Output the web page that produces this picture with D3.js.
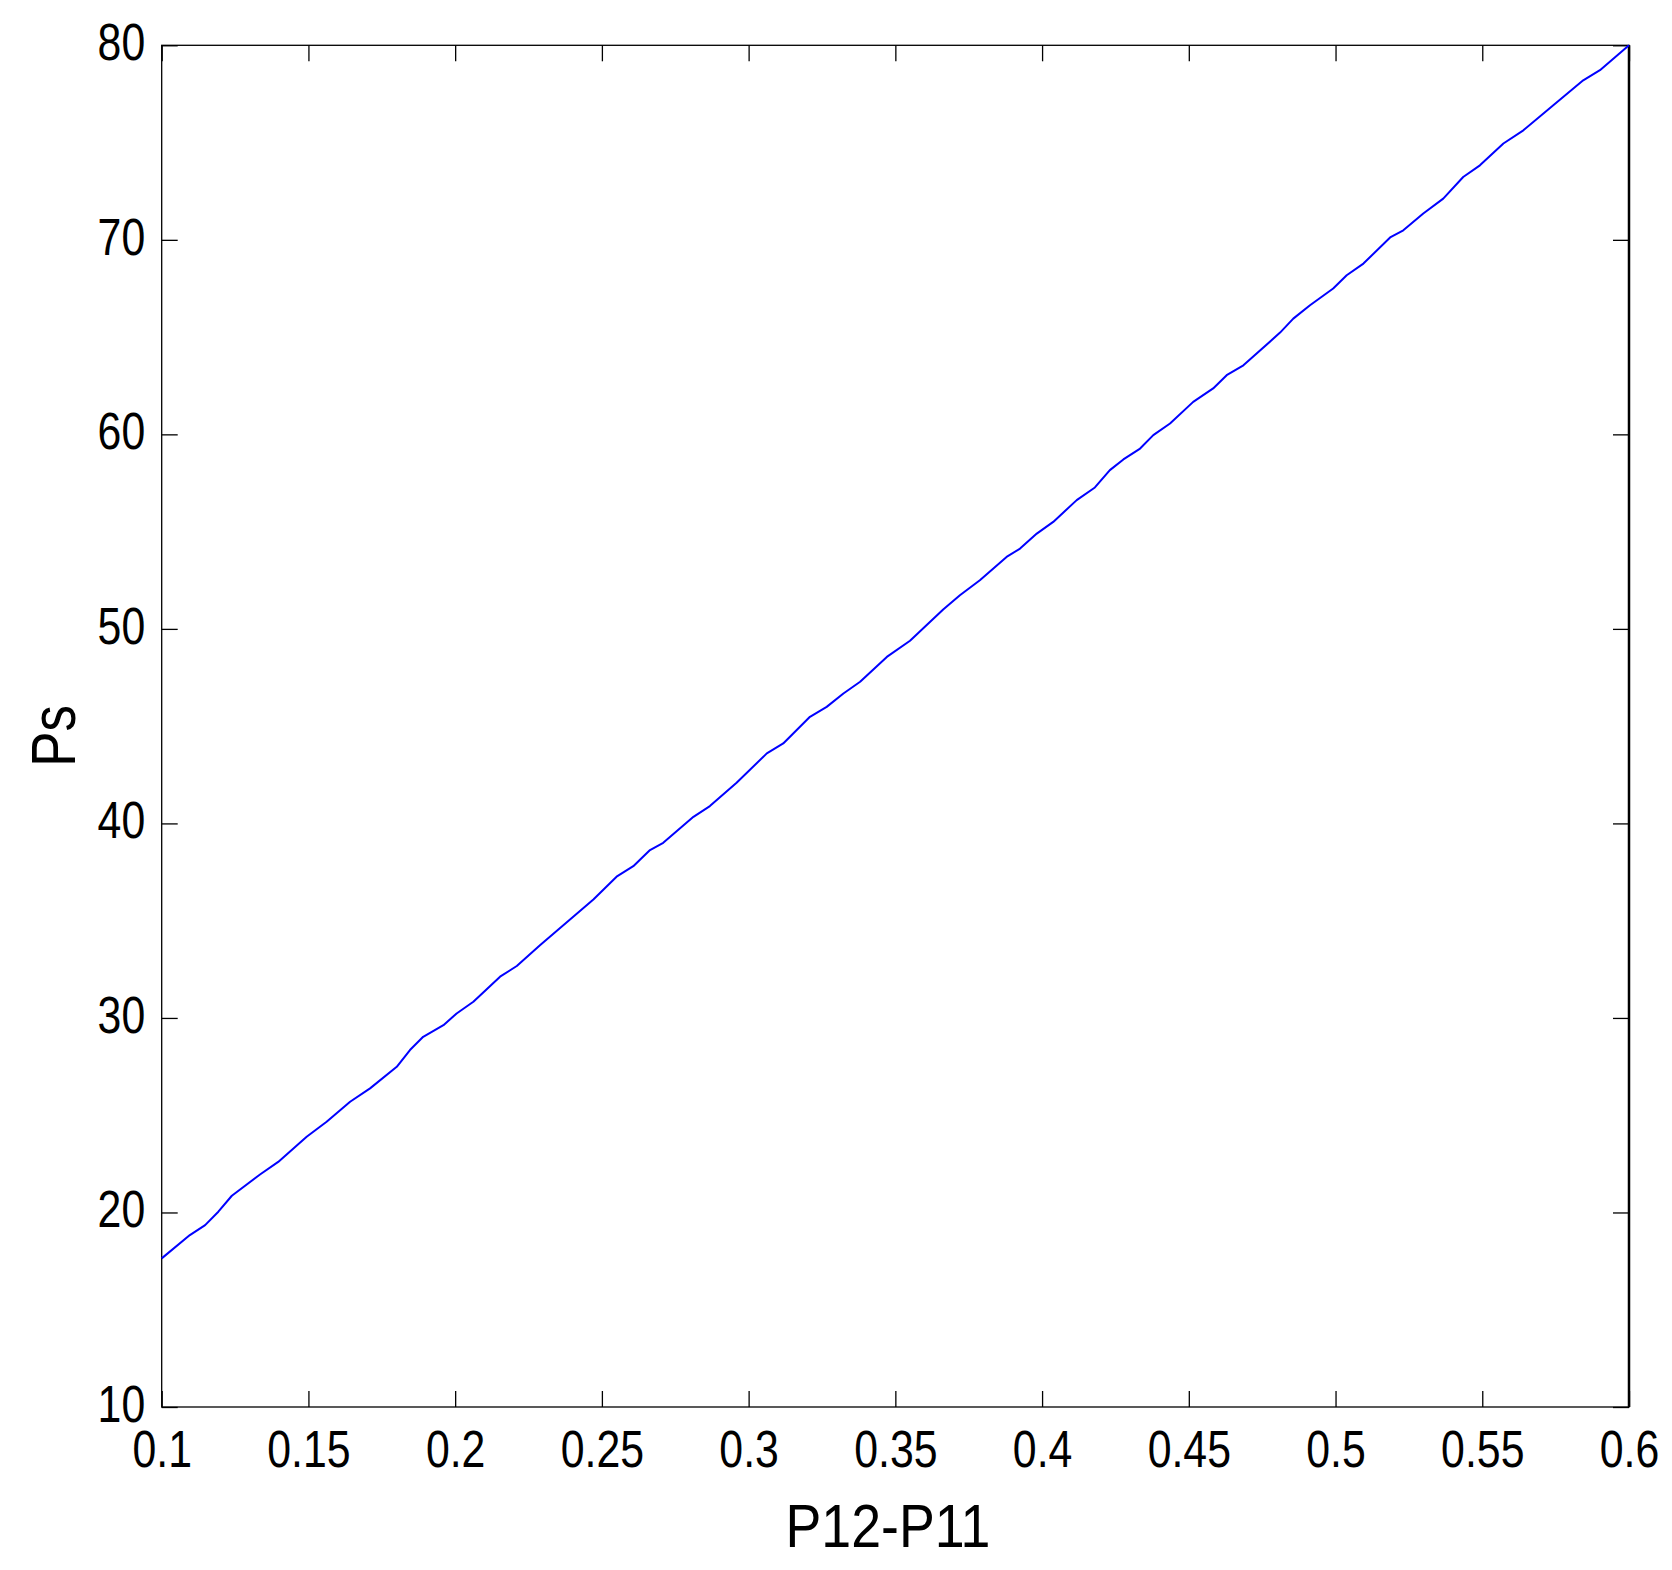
<!DOCTYPE html>
<html>
<head>
<meta charset="utf-8">
<script src="https://cdn.jsdelivr.net/npm/d3@7/dist/d3.min.js"></script>
<style>
  body { margin: 0; background: #fff; }
  svg text { font-family: "Liberation Sans", Arial, sans-serif; fill: #000; }
  .tick line { stroke: #000; stroke-width: 1.3; }
</style>
</head>
<body>
<div class="graph"></div>
<script>
// valeurs
var xVals = [0.1, 0.1096, 0.1148, 0.1193, 0.1239, 0.1335, 0.1397, 0.1494, 0.1562, 0.1642, 0.1710,
  0.1801, 0.1846, 0.1891, 0.1960, 0.2005, 0.2062, 0.2153, 0.2210, 0.2289, 0.2471, 0.2550, 0.2607,
  0.2664, 0.2709, 0.2812, 0.2868, 0.2959, 0.3062, 0.3118, 0.3209, 0.3266, 0.3323, 0.3380, 0.3471,
  0.3550, 0.3663, 0.3720, 0.3788, 0.3879, 0.3925, 0.3982, 0.4038, 0.4118, 0.4180, 0.4231, 0.4277,
  0.4334, 0.4379, 0.4436, 0.4515, 0.4583, 0.4629, 0.4686, 0.4811, 0.4856, 0.4913, 0.4992, 0.5038,
  0.5095, 0.5186, 0.5231, 0.5299, 0.5367, 0.5435, 0.5492, 0.5572, 0.5640, 0.5742, 0.5844, 0.5901, 0.6];
var psVals = [17.64, 18.84, 19.35, 20.04, 20.86, 21.95, 22.6, 23.89, 24.66, 25.69, 26.38,
  27.49, 28.35, 29.03, 29.63, 30.23, 30.83, 32.12, 32.67, 33.74, 36.09, 37.26, 37.80,
  38.63, 39.00, 40.34, 40.89, 42.09, 43.60, 44.11, 45.48, 45.99, 46.68, 47.28, 48.56,
  49.39, 51.00, 51.73, 52.50, 53.70, 54.13, 54.90, 55.50, 56.62, 57.27, 58.16, 58.71,
  59.27, 59.96, 60.56, 61.67, 62.36, 63.04, 63.55, 65.23, 65.95, 66.64, 67.50, 68.18,
  68.78, 70.12, 70.49, 71.35, 72.12, 73.23, 73.83, 74.95, 75.63, 76.92, 78.20, 78.72, 80];
var xTicks = [0.1, 0.15, 0.2, 0.25, 0.3, 0.35, 0.4, 0.45, 0.5, 0.55, 0.6];
var yTicks = [10, 20, 30, 40, 50, 60, 70, 80];
var xLabel = "P12-P11", yLabel = "Ps";

var width = 1672, height = 1570;
var plotLeft = 161.7, plotRight = 1629, plotTop = 45.3, plotBottom = 1407;
var tickLen = 16;
var squeeze = 0.84; // police etroite comme sur l'original

var svg = d3.select(".graph").append("svg")
  .attr("width", width)
  .attr("height", height);

var x = d3.scaleLinear().domain([0.1, 0.6]).range([plotLeft, plotRight]);
var y = d3.scaleLinear().domain([10, 80]).range([plotBottom, plotTop]);

var fmt = function(d){ return String(+d.toFixed(2)); };

// axes en bas et a gauche, graduations vers l'interieur
var gx = svg.append("g")
  .attr("transform", "translate(0," + plotBottom + ")")
  .call(d3.axisBottom(x).tickValues(xTicks).tickSizeInner(-tickLen).tickSizeOuter(0).tickFormat(fmt));
gx.select(".domain").remove();
gx.selectAll("text")
  .attr("y", null).attr("dy", null)
  .attr("text-anchor", "middle")
  .attr("transform", "translate(0,60) scale(" + squeeze + ",1)")
  .attr("font-size", 51);

var gy = svg.append("g")
  .attr("transform", "translate(" + plotLeft + ",0)")
  .call(d3.axisLeft(y).tickValues(yTicks).tickSizeInner(-tickLen).tickSizeOuter(0).tickFormat(fmt));
gy.select(".domain").remove();
gy.selectAll("text")
  .attr("x", null).attr("dy", null).attr("y", null)
  .attr("text-anchor", "end")
  .attr("transform", "translate(-16.5,14.5) scale(" + squeeze + ",1)")
  .attr("font-size", 51);

// graduations miroir en haut et a droite
svg.append("g")
  .attr("transform", "translate(0," + plotTop + ")")
  .call(d3.axisTop(x).tickValues(xTicks).tickSizeInner(-tickLen).tickSizeOuter(0).tickFormat(""))
  .select(".domain").remove();
svg.append("g")
  .attr("transform", "translate(" + plotRight + ",0)")
  .call(d3.axisRight(y).tickValues(yTicks).tickSizeInner(-tickLen).tickSizeOuter(0).tickFormat(""))
  .select(".domain").remove();

// cadre
svg.append("rect")
  .attr("x", plotLeft).attr("y", plotTop)
  .attr("width", plotRight - plotLeft).attr("height", plotBottom - plotTop)
  .attr("fill", "none").attr("stroke", "#000").attr("stroke-width", 1.3);
svg.append("line")
  .attr("x1", plotRight).attr("x2", plotRight).attr("y1", plotTop).attr("y2", plotBottom)
  .attr("stroke", "#000").attr("stroke-width", 2.5);

var data = xVals.map(function(d, i){ return {x: d, p: psVals[i]}; });
var line = d3.line()
  .x(function(d){ return x(d.x); })
  .y(function(d){ return y(d.p); });

svg.append("path")
  .datum(data)
  .attr("fill", "none")
  .attr("stroke", "#0000ff")
  .attr("stroke-width", 2)
  .attr("stroke-linejoin", "round")
  .attr("d", line);

svg.append("text")
  .attr("transform", "translate(888,1547) scale(0.88,1)")
  .attr("text-anchor", "middle")
  .attr("font-size", 61)
  .text(xLabel);

svg.append("text")
  .attr("transform", "translate(75,736) rotate(-90) scale(" + squeeze + ",1)")
  .attr("text-anchor", "middle")
  .attr("font-size", 63)
  .text(yLabel);
</script>
</body>
</html>
